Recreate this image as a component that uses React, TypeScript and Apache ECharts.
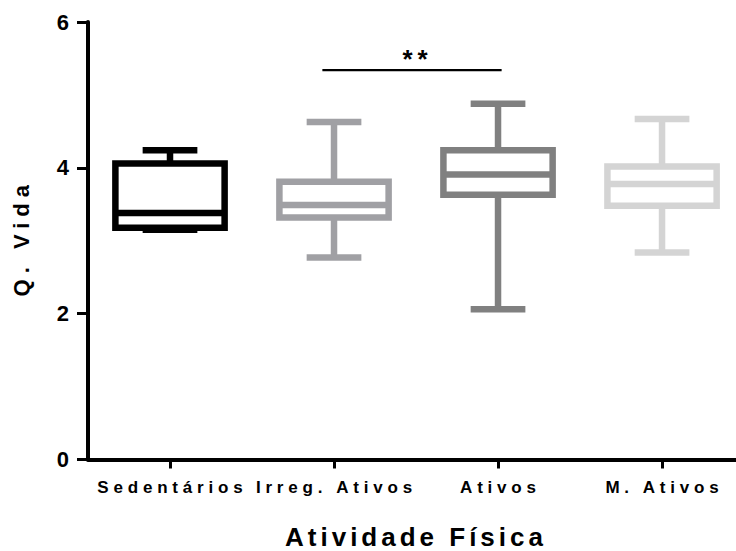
import React, { useEffect, useRef } from "react";
import * as echarts from "echarts";

const categories = ["Sedentários", "Irreg. Ativos", "Ativos", "M. Ativos"];
const categoryIndex = [0, 1, 2, 3];
const mins = [3.15, 2.77, 2.06, 2.84];
const q1s = [3.18, 3.32, 3.63, 3.48];
const medians = [3.38, 3.49, 3.91, 3.78];
const q3s = [4.06, 3.81, 4.24, 4.02];
const maxs = [4.24, 4.63, 4.88, 4.67];
const boxColors = ["#000000", "#A0A0A4", "#808080", "#D4D4D4"];
const yTicks = [0, 2, 4, 6];
const xName = "Atividade Física";
const yName = "Q. Vida";
// significance bracket between two groups
const sigFrom = 1;
const sigTo = 2;
const sigLevel = 5.34;
const sigLabel = "**";

const FONT = "'Liberation Sans', Arial, sans-serif";

function spacingFor(t: string): number {
  if (categories.includes(t)) return 4.8;
  if (t === yName) return 6;
  if (t === xName) return 4;
  if (t === sigLabel) return 5;
  return 0;
}

export default function App() {
  const ref = useRef<HTMLDivElement>(null);
  useEffect(() => {
    if (!ref.current) return;
    const chart = echarts.init(ref.current, undefined, { renderer: "svg" });
    const applySpacing = () => {
      const root = ref.current;
      if (!root) return;
      root.querySelectorAll("text").forEach((el: any) => {
        const s = spacingFor((el.textContent || "").trim());
        if (!s) return;
        el.style.letterSpacing = s + "px";
        if (el.getAttribute("text-anchor") === "middle") {
          if (!el.hasAttribute("data-x0")) el.setAttribute("data-x0", el.getAttribute("x") || "0");
          el.setAttribute("x", String(parseFloat(el.getAttribute("data-x0")) + s / 2));
        }
      });
    };
    chart.on("finished", applySpacing);
    const boxData = categories.map((_, i) => [categoryIndex[i], mins[i], q1s[i], medians[i], q3s[i], maxs[i]]);
    chart.setOption({
      animation: false,
      backgroundColor: "#ffffff",
      textStyle: { fontFamily: FONT },
      grid: { left: 88, right: 0, top: 22, bottom: 91.5, containLabel: false, outerBoundsMode: "none" },
      xAxis: {
        type: "value",
        min: -0.5,
        max: 3.451,
        name: xName,
        nameLocation: "middle",
        nameGap: 64,
        nameTextStyle: { fontSize: 26, fontWeight: "bold", color: "#000", fontFamily: FONT, padding: [0, 0, 0, 4] },
        axisLine: { show: true, onZero: false, lineStyle: { color: "#000", width: 4 } },
        axisTick: { show: true, customValues: categoryIndex, length: 9, lineStyle: { color: "#000", width: 3 } },
        axisLabel: {
          customValues: categoryIndex,
          formatter: (v: number) => categories[Math.round(v)] ?? "",
          fontSize: 17,
          fontWeight: "bold",
          color: "#000",
          margin: 19,
          fontFamily: FONT,
        },
        splitLine: { show: false },
      },
      yAxis: {
        type: "value",
        min: yTicks[0],
        max: yTicks[yTicks.length - 1],
        interval: 2,
        name: yName,
        nameLocation: "middle",
        nameGap: 56,
        nameTextStyle: { fontSize: 22, fontWeight: "bold", color: "#000", fontFamily: FONT },
        axisLine: { show: true, onZero: false, lineStyle: { color: "#000", width: 4 } },
        axisTick: { show: true, length: 11, lineStyle: { color: "#000", width: 3 } },
        axisLabel: { fontSize: 22, fontWeight: "bold", color: "#000", margin: 19, fontFamily: FONT },
        splitLine: { show: false },
      },
      series: [
        {
          type: "custom",
          data: boxData,
          encode: { x: 0, y: [1, 2, 3, 4, 5] },
          renderItem: (params: any, api: any) => {
            const i = api.value(0);
            const color = boxColors[params.dataIndex];
            const pMin = api.coord([i, api.value(1)]);
            const pQ1 = api.coord([i, api.value(2)]);
            const pMed = api.coord([i, api.value(3)]);
            const pQ3 = api.coord([i, api.value(4)]);
            const pMax = api.coord([i, api.value(5)]);
            const band = api.size([1, 0])[0];
            const bh = band * 0.333;
            const ch = band * 0.1668;
            const x = pMed[0];
            const lw = 6.5;
            const st = { stroke: color, lineWidth: lw, fill: null, lineCap: "butt" };
            return {
              type: "group",
              children: [
                { type: "line", shape: { x1: x, y1: pQ3[1], x2: x, y2: pMax[1] }, style: st },
                { type: "line", shape: { x1: x, y1: pQ1[1], x2: x, y2: pMin[1] }, style: st },
                { type: "line", shape: { x1: x - ch, y1: pMax[1], x2: x + ch, y2: pMax[1] }, style: st },
                { type: "line", shape: { x1: x - ch, y1: pMin[1], x2: x + ch, y2: pMin[1] }, style: st },
                {
                  type: "rect",
                  shape: { x: x - bh, y: pQ3[1], width: bh * 2, height: pQ1[1] - pQ3[1] },
                  style: { stroke: color, lineWidth: lw, fill: "#ffffff" },
                },
                { type: "line", shape: { x1: x - bh, y1: pMed[1], x2: x + bh, y2: pMed[1] }, style: st },
              ],
            };
          },
          z: 2,
        },
        {
          type: "custom",
          data: [[sigFrom, sigTo, sigLevel]],
          encode: { x: [0, 1], y: 2 },
          renderItem: (params: any, api: any) => {
            const a = api.coord([api.value(0), api.value(2)]);
            const b = api.coord([api.value(1), api.value(2)]);
            const band = api.size([1, 0])[0];
            const x1 = a[0] - band * 0.071;
            const x2 = b[0] + band * 0.022;
            return {
              type: "group",
              children: [
                { type: "line", shape: { x1, y1: a[1], x2, y2: a[1] }, style: { stroke: "#000", lineWidth: 2.3 } },
                {
                  type: "text",
                  x: (a[0] + b[0]) / 2 - 1,
                  y: a[1] - 11,
                  style: {
                    text: sigLabel,
                    fill: "#000",
                    fontSize: 26,
                    fontWeight: "bold",
                    fontFamily: FONT,
                    align: "center",
                    verticalAlign: "middle",
                  },
                },
              ],
            };
          },
          z: 3,
        },
      ],
    });
    applySpacing();
    return () => chart.dispose();
  }, []);
  return (
    <div
      ref={ref}
      style={{ position: "absolute", left: 0, top: 0, width: 736, height: 551, background: "#fff" }}
    />
  );
}
